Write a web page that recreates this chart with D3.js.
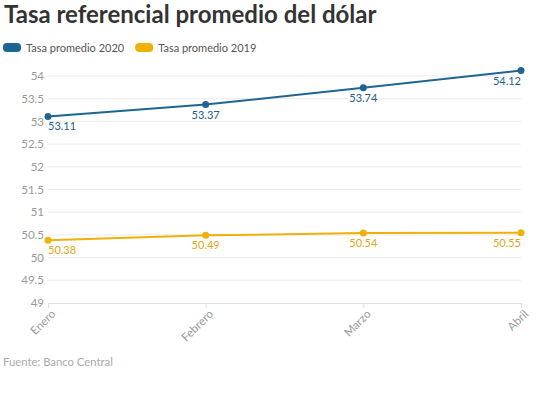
<!DOCTYPE html>
<html><head><meta charset="utf-8">
<script src="https://cdn.jsdelivr.net/npm/d3@7"></script>
<style>body{margin:0;background:#fff;font-family:"Source Sans Pro",Lato,"Noto Sans",sans-serif;}</style>
</head><body><svg id="c" width="552" height="393"></svg>
<script>
const categories = ["Enero","Febrero","Marzo","Abril"];
const series2020 = [53.11, 53.37, 53.74, 54.12];
const series2019 = [50.38, 50.49, 50.54, 50.55];
const seriesNames = ["Tasa promedio 2020","Tasa promedio 2019"];
const yTicks = [49,49.5,50,50.5,51,51.5,52,52.5,53,53.5,54];
const colors = ["#1d6594","#efb008"];
const labelColors = ["#1f5f8b","#e3a612"];

const svg = d3.select("#c");
const font = 'Lato, "Noto Sans", sans-serif';
svg.append("text").attr("x",4).attr("y",23).attr("font-family",font).attr("font-weight",700)
  .attr("font-size",24).attr("fill","#333").text("Tasa referencial promedio del dólar");

// legend
const leg = svg.append("g");
let lx = 3;
seriesNames.forEach((n,i)=>{
  leg.append("rect").attr("x",lx).attr("y",43).attr("width",18).attr("height",9).attr("rx",4).attr("fill",colors[i]);
  const t = leg.append("text").attr("x",lx+23).attr("y",51.5).attr("font-family",font).attr("font-size",11)
    .attr("fill","#555").text(n);
  lx += 23 + t.node().getComputedTextLength() + 11;
});

const x = d3.scalePoint().domain(categories).range([48,521]);
const y = d3.scaleLinear().domain([49,54]).range([303,76]);

// grid
svg.append("g").selectAll("line").data(yTicks.filter(d=>d!==49)).join("line")
  .attr("x1",48).attr("x2",521).attr("y1",d=>y(d)).attr("y2",d=>y(d)).attr("stroke","#ebebeb").attr("stroke-width",1);

const ya = svg.append("g").attr("transform","translate(46,0)")
  .call(d3.axisLeft(y).tickValues(yTicks).tickSize(0).tickPadding(2).tickFormat(d=>String(d)));
ya.select(".domain").remove();
ya.selectAll("text").attr("font-family",font).attr("font-size",11.5).attr("fill","#999").attr("dy","0.32em");

const xa = svg.append("g").attr("transform","translate(0,303)")
  .call(d3.axisBottom(x).tickSize(5).tickSizeOuter(0));
xa.select(".domain").attr("stroke","#e0e0e0").attr("d","M48,0.5H521");
xa.selectAll(".tick line").attr("stroke","#e0e0e0");
xa.selectAll("text").attr("font-family",font).attr("font-size",11.5).attr("fill","#999")
  .attr("text-anchor","end").attr("transform","translate(2,6) rotate(-45)").attr("dy","0.7em").attr("y",0).attr("x",0);

const line = d3.line().x((d,i)=>x(categories[i])).y(d=>y(d));
[series2020, series2019].forEach((s,k)=>{
  svg.append("path").datum(s).attr("d",line).attr("fill","none").attr("stroke",colors[k]).attr("stroke-width",2);
  svg.append("g").selectAll("circle").data(s).join("circle")
    .attr("cx",(d,i)=>x(categories[i])).attr("cy",d=>y(d)).attr("r",3.5).attr("fill",colors[k]);
  svg.append("g").selectAll("text").data(s).join("text")
    .attr("x",(d,i)=>x(categories[i])).attr("y",d=>y(d)+14)
    .attr("text-anchor",(d,i)=>i===0?"start":(i===s.length-1?"end":"middle"))
    .attr("font-family",font).attr("font-size",11).attr("fill",labelColors[k])
    .text(d=>d.toFixed(2));
});

svg.append("text").attr("x",3).attr("y",366).attr("font-family",font).attr("font-size",11.3)
  .attr("fill","#aaa").text("Fuente: Banco Central");
</script></body></html>
